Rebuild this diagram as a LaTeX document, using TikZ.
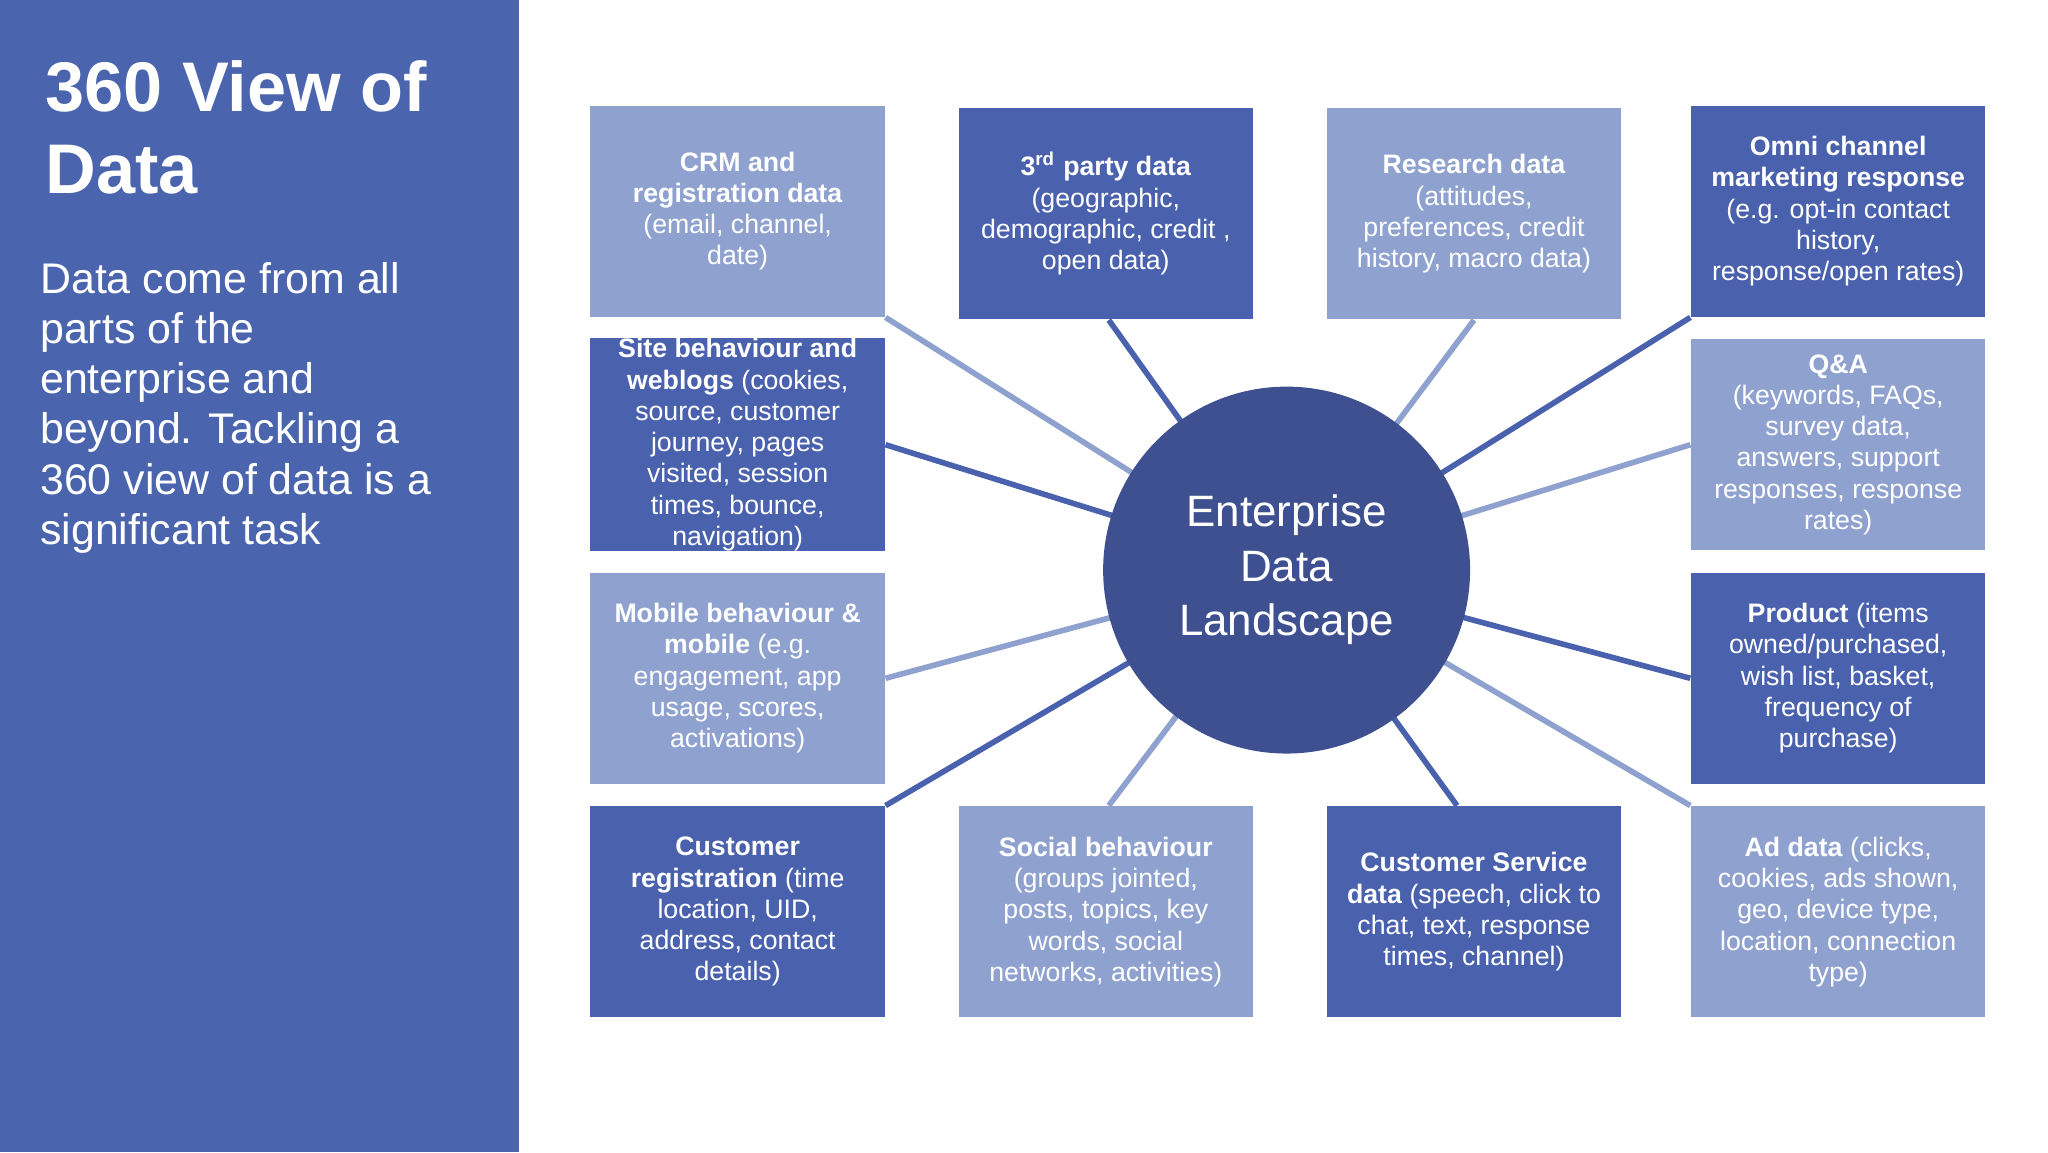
\documentclass[tikz,border=0pt]{standalone}
\usepackage{fontspec}
\setmainfont{Liberation Sans}
\definecolor{panel}{HTML}{4A64AE}
\definecolor{lt}{HTML}{8FA2CF}
\definecolor{dk}{HTML}{4A62AE}
\definecolor{hub}{HTML}{3E5090}
\begin{document}
\begin{tikzpicture}[x=0.0132cm,y=-0.0132cm,
 box/.style={minimum width=2.944cm, minimum height=2.112cm, align=center, text=white, font=\fontsize{7.6}{8.9}\selectfont, inner sep=0pt},
 L/.style={box, fill=lt}, D/.style={box, fill=dk},
 cl/.style={line width=1.6pt, lt}, cd/.style={line width=1.6pt, dk}]
\useasboundingbox (0,0) rectangle (1552,873);
\fill[white] (0,0) rectangle (1552,873);
\fill[panel] (0,0) rectangle (393,873);
\node[anchor=north west, text=white, font=\fontsize{20}{23.5}\selectfont\bfseries, align=left, inner sep=0pt] (title) at (34,45) {360 View of\\Data};
\node[anchor=north west, text=white, font=\fontsize{12.2}{14.3}\selectfont, align=left, inner sep=0pt] (body) at (30,198) {Data come from all\\parts of the\\enterprise and\\beyond. Tackling a\\360 view of data is a\\significant task};
\node[L] (crm) at (559,160) {\textbf{CRM and}\\\textbf{registration data}\\(email, channel,\\date)};
\node[D] (third) at (838,162) {\textbf{3\textsuperscript{rd} party data}\\(geographic,\\demographic, credit ,\\open data)};
\node[L] (res) at (1117,162) {\textbf{Research data}\\(attitudes,\\preferences, credit\\history, macro data)};
\node[D] (omni) at (1393,160) {\textbf{Omni channel}\\\textbf{marketing response}\\(e.g. opt-in contact\\history,\\response/open rates)};
\node[D] (site) at (559,337) {\textbf{Site behaviour and}\\\textbf{weblogs} (cookies,\\source, customer\\journey, pages\\visited, session\\times, bounce,\\navigation)};
\node[L] (qa) at (1393,337) {\textbf{Q\&A}\\(keywords, FAQs,\\survey data,\\answers, support\\responses, response\\rates)};
\node[L] (mob) at (559,514) {\textbf{Mobile behaviour \&}\\\textbf{mobile} (e.g.\\engagement, app\\usage, scores,\\activations)};
\node[D] (prod) at (1393,514) {\textbf{Product} (items\\owned/purchased,\\wish list, basket,\\frequency of\\purchase)};
\node[D] (creg) at (559,691) {\textbf{Customer}\\\textbf{registration} (time\\location, UID,\\address, contact\\details)};
\node[L] (soc) at (838,691) {\textbf{Social behaviour}\\(groups jointed,\\posts, topics, key\\words, social\\networks, activities)};
\node[D] (cs) at (1117,691) {\textbf{Customer Service}\\\textbf{data} (speech, click to\\chat, text, response\\times, channel)};
\node[L] (ad) at (1393,691) {\textbf{Ad data} (clicks,\\cookies, ads shown,\\geo, device type,\\location, connection\\type)};
\coordinate (c) at (975,432);
\draw[cl] (crm.south east) -- (c);
\draw[cd] ([xshift=0.03cm]third.south) -- (c);
\draw[cl] (res.south) -- (c);
\draw[cd] (omni.south west) -- (c);
\draw[cd] (site.east) -- (c);
\draw[cl] (qa.west) -- (c);
\draw[cl] (mob.east) -- (c);
\draw[cd] (prod.west) -- (c);
\draw[cd] (creg.north east) -- (c);
\draw[cl] ([xshift=0.03cm]soc.north) -- (c);
\draw[cd] ([xshift=-0.17cm]cs.north) -- (c);
\draw[cl] (ad.north west) -- (c);
\node[circle, fill=hub, minimum size=3.67cm, inner sep=0pt, text=white, align=center, font=\fontsize{12.5}{15.5}\selectfont] (hubn) at (c) {Enterprise\\Data\\Landscape};
\end{tikzpicture}
\end{document}
